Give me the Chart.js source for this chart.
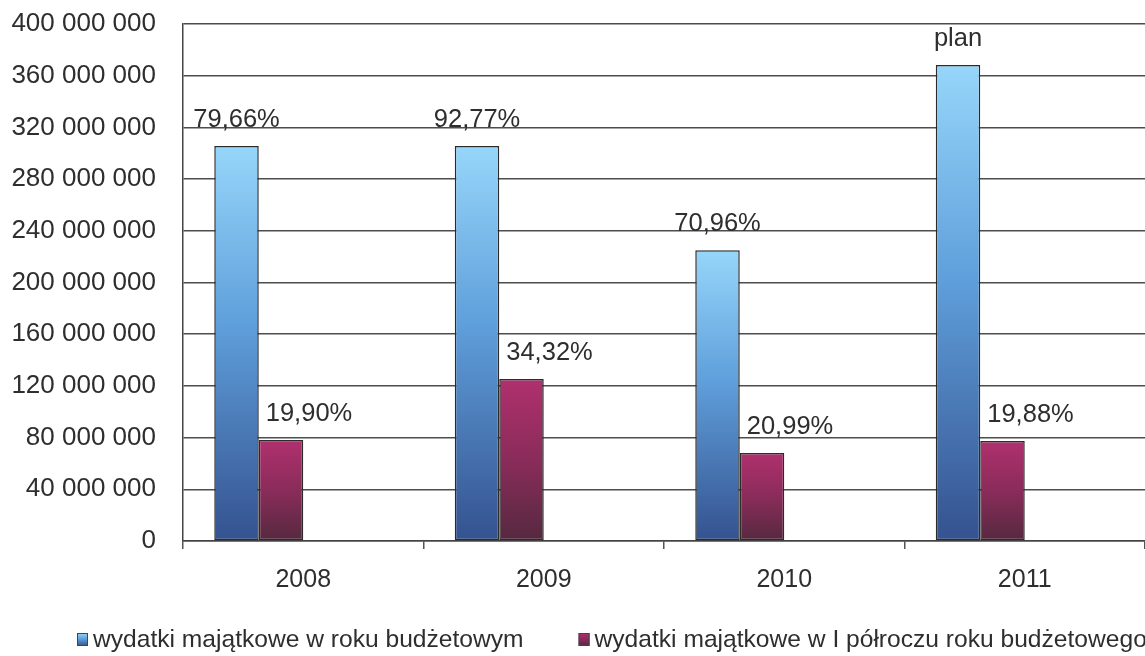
<!DOCTYPE html>
<html>
<head>
<meta charset="utf-8">
<script src="https://cdn.jsdelivr.net/npm/chart.js@4"></script>
<style>
    html, body { margin: 0; padding: 0; background: #fff; overflow: hidden; }
    #wrap { width: 1145px; height: 656px; }
</style>
</head>
<body>
<div id="wrap"><canvas id="wydatkiChart"></canvas></div>
<script>
// Chart data
const years = ['2008', '2009', '2010', '2011'];
const wydatkiRok = [305600000, 305600000, 225000000, 368300000];
const wydatkiPolrocze = [78100000, 125300000, 68100000, 77400000];
const opisRok = ['79,66%', '92,77%', '70,96%', 'plan'];
const opisPolrocze = ['19,90%', '34,32%', '20,99%', '19,88%'];
const seriesNames = ['wydatki majątkowe w roku budżetowym', 'wydatki majątkowe w I półroczu roku budżetowego'];
const yTicks = [0, 40000000, 80000000, 120000000, 160000000, 200000000, 240000000, 280000000, 320000000, 360000000, 400000000];

const FONT = '"Liberation Sans", Arial, sans-serif';
const TEXT = '#2e2e2e';

// Vertical gradient for each bar, from its own top to the baseline
function barGradient(stops, flat) {
    return function (ctx) {
        const chart = ctx.chart;
        if (!chart.chartArea || ctx.type !== 'data' || ctx.parsed == null) return flat;
        const y = chart.scales.y;
        const top = y.getPixelForValue(ctx.parsed.y);
        const bottom = y.getPixelForValue(0);
        if (!isFinite(top) || top === bottom) return flat;
        const g = chart.ctx.createLinearGradient(0, top, 0, bottom);
        stops.forEach(([pos, col]) => g.addColorStop(pos, col));
        return g;
    };
}

const blueStops = [[0, '#96d6fa'], [0.45, '#5f9fdb'], [1, '#34528f']];
const redStops = [[0, '#b0306e'], [0.5, '#8a2c5a'], [1, '#55293f']];

// Percentage labels above the bars
const barLabels = {
    id: 'barLabels',
    afterDatasetsDraw(chart) {
        const ctx = chart.ctx;
        ctx.save();
        ctx.font = '25.5px ' + FONT;
        ctx.fillStyle = TEXT;
        ctx.textAlign = 'center';
        ctx.textBaseline = 'middle';
        [[0, opisRok, 0], [1, opisPolrocze, 28]].forEach(([di, texts, dx]) => {
            chart.getDatasetMeta(di).data.forEach((bar, i) => {
                ctx.fillText(texts[i], bar.x + dx, bar.y - 26);
            });
        });
        ctx.restore();
    }
};

// Legend under the axis, drawn by hand to get the wide gap between items
const bottomLegend = {
    id: 'bottomLegend',
    afterDraw(chart) {
        const ctx = chart.ctx;
        const boxStops = [blueStops, redStops];
        ctx.save();
        ctx.font = '24.6px ' + FONT;
        ctx.textBaseline = 'middle';
        ctx.textAlign = 'left';
        let x = 77;
        const y = 640;
        seriesNames.forEach((name, i) => {
            const g = ctx.createLinearGradient(0, y - 7, 0, y + 6);
            boxStops[i].forEach(([pos, col]) => g.addColorStop(pos, col));
            ctx.fillStyle = g;
            ctx.fillRect(x, y - 7, 11, 13);
            ctx.strokeStyle = '#444';
            ctx.lineWidth = 1;
            ctx.strokeRect(x + 0.5, y - 6.5, 10, 12);
            ctx.fillStyle = TEXT;
            ctx.fillText(name, x + 16, y);
            x += 16 + ctx.measureText(name).width + 55;
        });
        ctx.restore();
    }
};

function formatNumber(v) {
    return String(v).replace(/\B(?=(\d{3})+(?!\d))/g, ' ');
}

new Chart(document.getElementById('wydatkiChart'), {
    type: 'bar',
    data: {
        labels: years,
        datasets: [
            {
                label: seriesNames[0],
                data: wydatkiRok,
                backgroundColor: barGradient(blueStops, '#5f9fdb'),
                borderColor: '#2b2b2b',
                borderWidth: 1.5,
                borderSkipped: false
            },
            {
                label: seriesNames[1],
                data: wydatkiPolrocze,
                backgroundColor: barGradient(redStops, '#8a2c5a'),
                borderColor: '#2b2b2b',
                borderWidth: 1.5,
                borderSkipped: false
            },
            // empty slots, the source chart left room for two more series
            { label: '', data: [] },
            { label: '', data: [] }
        ]
    },
    options: {
        responsive: true,
        maintainAspectRatio: false,
        animation: false,
        datasets: {
            bar: { barPercentage: 1.0, categoryPercentage: 0.74 }
        },
        layout: { padding: { top: 24, right: 0, left: 0, bottom: 0 } },
        scales: {
            x: {
                grid: {
                    offset: true,
                    drawOnChartArea: false,
                    drawTicks: true,
                    tickLength: 8,
                    color: '#555',
                    lineWidth: 1.5
                },
                border: { color: '#444', width: 1.5 },
                ticks: {
                    color: TEXT,
                    font: { family: FONT, size: 25 },
                    padding: 16
                },
                afterFit(scale) { scale.height = 115; }
            },
            y: {
                min: 0,
                max: 400000000,
                afterBuildTicks(scale) { scale.ticks = yTicks.map(v => ({ value: v })); },
                grid: {
                    color: '#4d4d4d',
                    lineWidth: 1.5,
                    drawTicks: false
                },
                border: { color: '#444', width: 1.5 },
                ticks: {
                    color: TEXT,
                    font: { family: FONT, size: 26 },
                    padding: 27,
                    callback: v => formatNumber(v)
                },
                afterFit(scale) {
                    scale.width = 183;
                    scale.paddingTop = 0;
                    scale.paddingBottom = 0;
                }
            }
        },
        plugins: {
            legend: { display: false },
            tooltip: { enabled: false }
        }
    },
    plugins: [barLabels, bottomLegend]
});
</script>
</body>
</html>
